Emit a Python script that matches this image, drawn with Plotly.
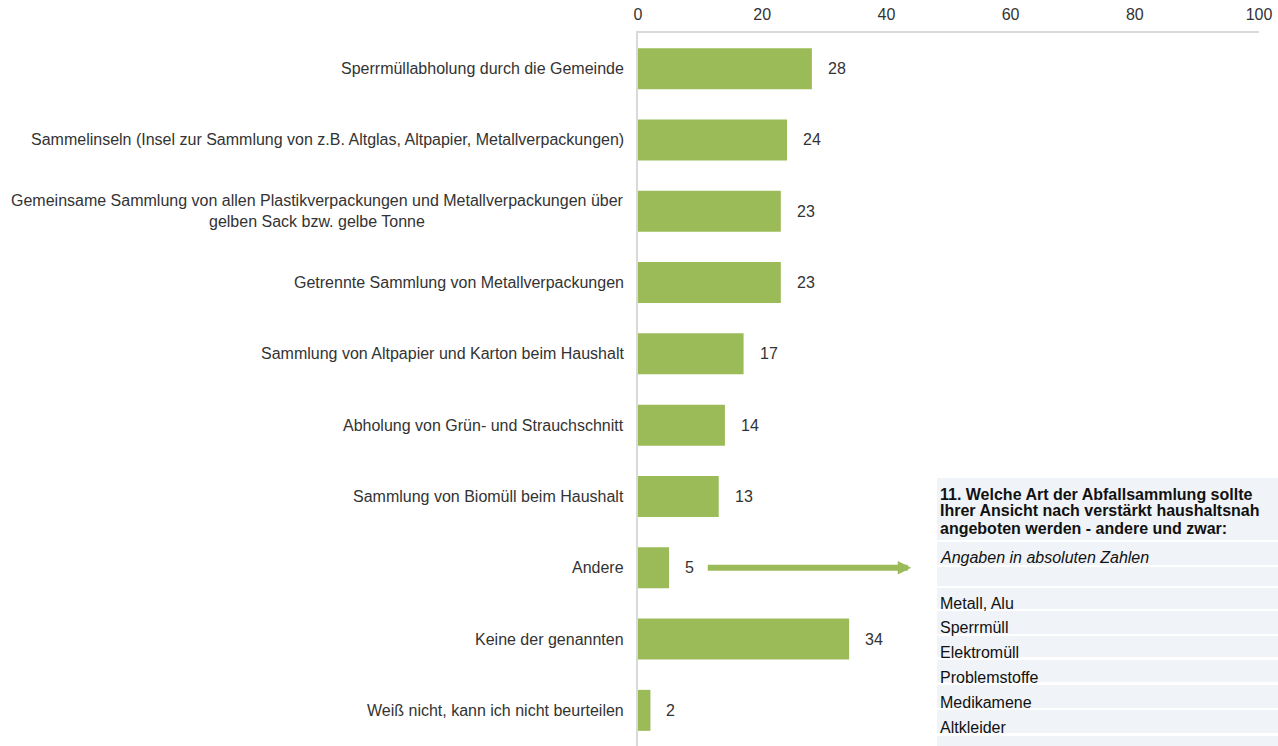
import plotly.graph_objects as go

# Survey answers (share in percent)
categories = [
    "Sperrmüllabholung durch die Gemeinde",
    "Sammelinseln (Insel zur Sammlung von z.B. Altglas, Altpapier, Metallverpackungen)",
    "Gemeinsame Sammlung von allen Plastikverpackungen und Metallverpackungen über<br>gelben Sack bzw. gelbe Tonne",
    "Getrennte Sammlung von Metallverpackungen",
    "Sammlung von Altpapier und Karton beim Haushalt",
    "Abholung von Grün- und Strauchschnitt",
    "Sammlung von Biomüll beim Haushalt",
    "Andere",
    "Keine der genannten",
    "Weiß nicht, kann ich nicht beurteilen",
]
values = [28, 24, 23, 23, 17, 14, 13, 5, 34, 2]
x_ticks = [0, 20, 40, 60, 80, 100]

# Side table: free-text answers for "Andere"
table_title = [
    "11. Welche Art der Abfallsammlung sollte",
    "Ihrer Ansicht nach verstärkt haushaltsnah",
    "angeboten werden - andere und zwar:",
]
table_note = "Angaben in absoluten Zahlen"
other_answers = ["Metall, Alu", "Sperrmüll", "Elektromüll", "Problemstoffe",
                 "Medikamene", "Altkleider"]

W, H = 1278, 746
M_L, M_R, M_T, M_B = 638, 19, 33, 0
GREEN = "#9BBB59"
FONT = "Liberation Sans, Arial, sans-serif"
TXT = "#333333"
ROW_FILL = "#F0F4F8"
FS = 16


def px_x(px):
    return (px - M_L) / (W - M_L - M_R)


def px_y(py):
    return (H - M_B - py) / (H - M_T - M_B)


fig = go.Figure()
fig.add_trace(go.Bar(
    x=values, y=categories, orientation="h",
    marker=dict(color=GREEN, line=dict(width=0)),
    hoverinfo="x+y",
))

annotations = []
# value labels beside each bar
for c, v in zip(categories, values):
    annotations.append(dict(
        x=v, y=c, xref="x", yref="y", text=str(v), showarrow=False,
        xanchor="left", xshift=14, font=dict(family=FONT, size=FS, color=TXT),
    ))
# category labels (centred multi-line text, right-aligned block)
for c in categories:
    annotations.append(dict(
        x=0, y=c, xref="paper", yref="y", text=c, showarrow=False,
        xanchor="right", xshift=-12, align="center",
        font=dict(family=FONT, size=FS, color=TXT),
    ))
# arrow from "Andere" towards the table
annotations.append(dict(
    x=44, y="Andere", xref="x", yref="y", ax=-205, ay=0,
    axref="pixel", ayref="pixel", text="", showarrow=True,
    arrowhead=2, arrowsize=0.45, arrowwidth=6, arrowcolor=GREEN,
))

# table rows: (top, bottom) in page pixels
rows = [(478, 540), (542, 565), (567, 586), (588, 609), (611, 634),
        (636, 657), (660, 682), (685, 708), (710, 733), (736, 750)]
shapes = []
for top, bot in rows:
    shapes.append(dict(
        type="rect", xref="paper", yref="paper",
        x0=px_x(937), x1=px_x(1280), y0=px_y(bot), y1=px_y(top),
        fillcolor=ROW_FILL, line=dict(width=0), layer="below",
    ))

for i, line in enumerate(table_title):
    annotations.append(dict(
        x=px_x(938), y=px_y(494 + 17 * i), xref="paper", yref="paper",
        text=f"<b>{line}</b>", showarrow=False, xanchor="left", yanchor="middle",
        font=dict(family=FONT, size=FS, color="#111111"),
    ))
annotations.append(dict(
    x=px_x(938), y=px_y(557), xref="paper", yref="paper",
    text=f"<i>{table_note}</i>", showarrow=False, xanchor="left", yanchor="middle",
    font=dict(family=FONT, size=FS, color="#111111"),
))
for i, item in enumerate(other_answers):
    annotations.append(dict(
        x=px_x(938), y=px_y(603 + 24.8 * i), xref="paper", yref="paper",
        text=item, showarrow=False, xanchor="left", yanchor="middle",
        font=dict(family=FONT, size=FS, color="#111111"),
    ))

fig.update_layout(
    width=W, height=H, autosize=False,
    margin=dict(l=M_L, r=M_R, t=M_T, b=M_B, pad=0),
    paper_bgcolor="white", plot_bgcolor="white",
    showlegend=False, bargap=0.425,
    font=dict(family=FONT, size=FS, color=TXT),
    xaxis=dict(
        side="top", range=[0, 100], tickvals=x_ticks,
        showgrid=False, zeroline=False, showline=True,
        linecolor="#D9D9D9", linewidth=2, ticks="",
        ticklabelstandoff=5,
        tickfont=dict(family=FONT, size=FS, color=TXT),
        fixedrange=True,
    ),
    yaxis=dict(
        autorange="reversed", showticklabels=False, showgrid=False,
        zeroline=False, showline=True, linecolor="#D9D9D9", linewidth=2,
        ticks="", fixedrange=True,
    ),
    annotations=annotations, shapes=shapes,
)

fig.write_html("out.html", config={"displayModeBar": False})
